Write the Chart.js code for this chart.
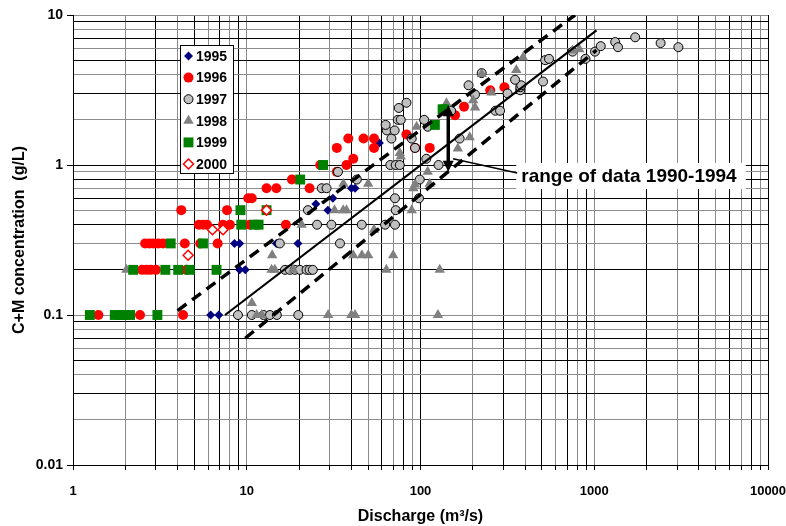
<!DOCTYPE html>
<html>
<head>
<meta charset="utf-8">
<script src="https://cdn.jsdelivr.net/npm/chart.js@4.4.0/dist/chart.umd.min.js"></script>
<style>
  body { margin: 0; background: #fff; }
  #wrap { position: relative; width: 786px; height: 526px; }
</style>
</head>
<body>
<div id="wrap"><canvas id="chart"></canvas></div>
<script>
// discharge (m3/s) and C+M concentration (g/L) per year
const q1995 = [6.2, 6.9, 8.5, 9.1, 9.1, 9.8, 14.8, 19.7, 25, 29.3, 31.3, 40, 42, 58];
const c1995 = [0.1, 0.1, 0.3, 0.3, 0.2, 0.2, 0.3, 0.3, 0.55, 0.5, 0.6, 0.7, 0.7, 1.4];

const q1996 = [1.4, 2.43, 4.3,
  2.5, 2.65, 2.8, 3.0, 4.5,
  2.6, 2.75, 2.9, 3.1, 3.3, 4.4, 5.4, 6.8,
  5.3, 5.6, 5.9, 7.3, 8.0, 10.4, 16.8,
  4.2, 7.7, 10.2, 10.7,
  13, 14.8, 23, 18.2,
  33, 26.5, 37.5, 41,
  33, 54, 93, 113,
  38.4, 47, 54, 83,
  158, 178, 252, 304];
const c1996 = [0.1, 0.1, 0.1,
  0.2, 0.2, 0.2, 0.2, 0.2,
  0.3, 0.3, 0.3, 0.3, 0.3, 0.3, 0.3, 0.3,
  0.4, 0.4, 0.4, 0.4, 0.4, 0.4, 0.4,
  0.5, 0.5, 0.6, 0.6,
  0.7, 0.7, 0.7, 0.8,
  0.9, 1.0, 1.0, 1.1,
  1.3, 1.3, 1.3, 1.3,
  1.5, 1.5, 1.5, 1.6,
  2.15, 2.45, 3.15, 3.3];

const q1997 = [8.9, 10.7, 12.5, 13.6, 14.9, 19.8,
  16.6, 17.7, 18.9, 20.2, 22.1, 23, 24,
  15.5, 34.4,
  25.4, 30.7, 45.9, 62.6, 71.3,
  22.5, 72,
  71.3, 98,
  27, 28.8,
  43, 99, 33.5,
  67, 72, 76, 127, 108, 93,
  68, 89, 168, 64, 71, 63, 110,
  74, 77, 105, 75, 83,
  150, 270, 287,
  206, 317, 375, 375, 189, 380,
  350, 507, 225,
  522, 549, 890, 750, 1010,
  1090, 1320, 1370, 1720, 2410, 3050];
const c1997 = [0.1, 0.1, 0.1, 0.1, 0.1, 0.1,
  0.2, 0.2, 0.2, 0.2, 0.2, 0.2, 0.2,
  0.3, 0.3,
  0.4, 0.4, 0.4, 0.4, 0.4,
  0.5, 0.5,
  0.6, 0.6,
  0.7, 0.7,
  0.8, 0.8, 0.9,
  1.0, 1.0, 1.0, 1.0, 1.1, 1.3,
  1.5, 1.5, 1.5, 1.7, 1.7, 1.85, 1.8,
  2.0, 2.0, 2.0, 2.4, 2.6,
  2.3, 2.3, 2.3,
  2.95, 3.0, 3.15, 3.3, 3.4, 3.4,
  3.7, 3.6, 4.1,
  5.0, 5.1, 5.1, 5.7, 5.7,
  6.2, 6.6, 6.1, 7.1, 6.5, 6.1];

const q1998 = [2.03, 10.7, 11.4, 12.2, 29.4, 40, 42, 126,
  13.9, 14.5, 18.5, 63.6, 129,
  14, 41, 46, 50, 69.6,
  20.7, 54,
  32, 35.9, 37.5, 89,
  36, 50, 91, 93, 113, 110,
  76, 77, 95, 164, 192, 141, 201, 206, 225, 256, 356, 389, 750, 820];
const c1998 = [0.2, 0.12, 0.1, 0.1, 0.1, 0.1, 0.1, 0.1,
  0.2, 0.2, 0.2, 0.2, 0.2,
  0.25, 0.25, 0.25, 0.25, 0.25,
  0.4, 0.37,
  0.5, 0.5, 0.5, 0.5,
  0.75, 0.75, 0.7, 0.74, 0.75, 0.9,
  1.2, 1.14, 1.8, 1.29, 1.53, 2.58, 2.7, 2.42, 4.05, 3.04, 4.3, 5.2, 5.8, 5.9];

const q1999 = [1.25, 1.74, 1.86, 1.99, 2.13, 3.06,
  2.22, 3.4, 4.03, 4.7, 6.7,
  3.65, 5.6,
  9.3, 11.1, 11.7,
  9.2, 13.0,
  20.3, 27.5, 121, 134, 137];
const c1999 = [0.1, 0.1, 0.1, 0.1, 0.1, 0.1,
  0.2, 0.2, 0.2, 0.2, 0.2,
  0.3, 0.3,
  0.4, 0.4, 0.4,
  0.5, 0.5,
  0.8, 1.0, 1.85, 2.35, 2.35];

const q2000 = [4.6, 6.35, 7.3, 13.0];
const c2000 = [0.25, 0.37, 0.37, 0.5];

// fitted line and envelope (end points)
const fitQ = [7.5, 1030];
const fitC = [0.1, 7.9];
const upperQ = [4, 775];
const upperC = [0.107, 10];
const lowerQ = [9.8, 1030];
const lowerC = [0.07, 5.83];

// range arrow and its label
const rangeQ = 144.5;
const rangeC = [0.9, 2.5];
const rangeLabel = 'range of data 1990-1994';
const rangeLabelAt = [380, 0.845];
const leaderFrom = [154, 1.1];

const xLabels = [1, 10, 100, 1000, 10000];
const yLabels = [0.01, 0.1, 1, 10];

const FONT = '"Liberation Sans", Arial, sans-serif';

function pairs(xs, ys) {
  return xs.map((x, i) => ({ x: x, y: ys[i] }));
}

// 1..9 x 10^k grid values for a log axis
function logGrid(lo, hi) {
  const vals = [];
  for (let k = lo; k < hi; k++) {
    for (let m = 1; m <= 9; m++) {
      vals.push(parseFloat((m * Math.pow(10, k)).toPrecision(6)));
    }
  }
  vals.push(Math.pow(10, hi));
  return vals;
}

function isDecade(v) {
  const l = Math.log10(v);
  return Math.abs(l - Math.round(l)) < 1e-9;
}

const gridColor = (ctx) => (ctx.index % 2 ? '#8c8c8c' : '#000000');

function drawMarker(ctx, style, x, y) {
  ctx.save();
  ctx.fillStyle = style.bg;
  ctx.strokeStyle = style.border;
  ctx.lineWidth = style.bw;
  const r = style.r;
  ctx.beginPath();
  if (style.shape === 'circle') {
    ctx.arc(x, y, r, 0, Math.PI * 2);
  } else if (style.shape === 'rectRot') {
    ctx.moveTo(x, y - r); ctx.lineTo(x + r, y); ctx.lineTo(x, y + r); ctx.lineTo(x - r, y);
    ctx.closePath();
  } else if (style.shape === 'rect') {
    const s = r * Math.SQRT1_2;
    ctx.rect(x - s, y - s, s * 2, s * 2);
  } else if (style.shape === 'triangle') {
    const h = r * 1.5;
    ctx.moveTo(x, y - r); ctx.lineTo(x + h / Math.sqrt(3), y + r / 2); ctx.lineTo(x - h / Math.sqrt(3), y + r / 2);
    ctx.closePath();
  }
  ctx.fill();
  if (style.bw > 0) ctx.stroke();
  ctx.restore();
}

const series = [
  { label: '1995', xs: q1995, ys: c1995, shape: 'rectRot', r: 4.5, bg: '#000080', border: '#000080', bw: 0 },
  { label: '1996', xs: q1996, ys: c1996, shape: 'circle', r: 5, bg: '#ff0000', border: '#ff0000', bw: 0 },
  { label: '1997', xs: q1997, ys: c1997, shape: 'circle', r: 4.5, bg: '#c0c0c0', border: '#000000', bw: 1 },
  { label: '1998', xs: q1998, ys: c1998, shape: 'triangle', r: 6, bg: '#808080', border: '#808080', bw: 0 },
  { label: '1999', xs: q1999, ys: c1999, shape: 'rect', r: 7, bg: '#008000', border: '#008000', bw: 0 },
  { label: '2000', xs: q2000, ys: c2000, shape: 'rectRot', r: 5, bg: '#ffffff', border: '#ff0000', bw: 1.5 }
];

const datasets = series.map((s, i) => ({
  label: s.label,
  data: pairs(s.xs, s.ys),
  pointStyle: s.shape,
  pointRadius: s.r,
  backgroundColor: s.bg,
  borderColor: s.border,
  borderWidth: s.bw,
  order: 10 - i
}));

function lineSet(xs, ys, width, dash) {
  return {
    data: pairs(xs, ys),
    showLine: true,
    pointRadius: 0,
    borderColor: '#000',
    borderWidth: width,
    borderDash: dash,
    borderCapStyle: 'butt',
    order: 0
  };
}
datasets.push(lineSet(fitQ, fitC, 2.2, []));
datasets.push(lineSet(upperQ, upperC, 3.5, [11, 7]));
datasets.push(lineSet(lowerQ, lowerC, 3.5, [11, 7]));

// white page behind everything
const bgPlugin = {
  id: 'bg',
  beforeDraw(chart) {
    const ctx = chart.ctx;
    ctx.save();
    ctx.fillStyle = '#fff';
    ctx.fillRect(0, 0, chart.width, chart.height);
    ctx.restore();
  }
};

// in-plot legend, range arrow and label
const overlayPlugin = {
  id: 'overlay',
  afterDatasetsDraw(chart) {
    const ctx = chart.ctx;
    const xs = chart.scales.x, ys = chart.scales.y;

    // legend box
    const bx = 180, by = 45, bw = 53, bh = 128;
    ctx.save();
    ctx.fillStyle = '#fff';
    ctx.fillRect(bx, by, bw, bh);
    ctx.strokeStyle = '#000';
    ctx.lineWidth = 1;
    ctx.strokeRect(bx + 0.5, by + 0.5, bw, bh);
    ctx.font = 'bold 14px ' + FONT;
    ctx.fillStyle = '#000';
    ctx.textBaseline = 'middle';
    series.forEach((s, i) => {
      const y = by + 11 + i * 21.6;
      drawMarker(ctx, s, bx + 8.5, y);
      ctx.fillStyle = '#000';
      ctx.fillText(s.label, bx + 16, y + 1);
    });
    ctx.restore();

    // double-headed arrow
    const ax = xs.getPixelForValue(rangeQ);
    const ay1 = ys.getPixelForValue(rangeC[1]);
    const ay2 = ys.getPixelForValue(rangeC[0]);
    ctx.save();
    ctx.strokeStyle = '#000';
    ctx.fillStyle = '#000';
    ctx.lineWidth = 3.5;
    ctx.beginPath();
    ctx.moveTo(ax, ay1 + 8);
    ctx.lineTo(ax, ay2 - 8);
    ctx.stroke();
    ctx.beginPath();
    ctx.moveTo(ax, ay1); ctx.lineTo(ax + 5.5, ay1 + 11); ctx.lineTo(ax - 5.5, ay1 + 11); ctx.closePath();
    ctx.fill();
    ctx.beginPath();
    ctx.moveTo(ax, ay2); ctx.lineTo(ax + 5.5, ay2 - 11); ctx.lineTo(ax - 5.5, ay2 - 11); ctx.closePath();
    ctx.fill();

    // label box and leader line
    const tx = xs.getPixelForValue(rangeLabelAt[0]);
    const ty = ys.getPixelForValue(rangeLabelAt[1]);
    ctx.font = 'bold 19px ' + FONT;
    const tw = ctx.measureText(rangeLabel).width;
    ctx.fillStyle = '#fff';
    ctx.fillRect(tx - 5, ty - 13, tw + 14, 26);
    ctx.fillStyle = '#000';
    ctx.textBaseline = 'middle';
    ctx.fillText(rangeLabel, tx, ty + 1);
    ctx.lineWidth = 1.5;
    ctx.beginPath();
    ctx.moveTo(xs.getPixelForValue(leaderFrom[0]), ys.getPixelForValue(leaderFrom[1]));
    ctx.lineTo(tx - 4, ty - 3);
    ctx.stroke();
    ctx.restore();
  }
};

new Chart(document.getElementById('chart'), {
  type: 'scatter',
  data: { datasets: datasets },
  options: {
    responsive: true,
    maintainAspectRatio: false,
    animation: false,
    events: [],
    layout: { padding: { left: 0, right: 18, top: 15, bottom: 0 } },
    plugins: {
      legend: { display: false },
      tooltip: { enabled: false }
    },
    scales: {
      x: {
        type: 'logarithmic',
        min: 1,
        max: 10000,
        afterBuildTicks: (scale) => { scale.ticks = logGrid(0, 4).map(v => ({ value: v })); },
        afterFit: (scale) => { scale.height = 61; scale.paddingRight = 0; scale.paddingLeft = 0; },
        ticks: {
          autoSkip: false,
          maxRotation: 0,
          padding: 14,
          color: '#000',
          font: { family: FONT, size: 13, weight: 'bold' },
          callback: (v) => (xLabels.some(l => Math.abs(l - v) < 1e-9) ? String(v) : '')
        },
        grid: { color: gridColor, lineWidth: 1, tickLength: 5, tickColor: '#000' },
        border: { color: '#000', width: 1 },
        title: {
          display: true,
          text: 'Discharge (m³/s)',
          color: '#000',
          font: { family: FONT, size: 16, weight: 'bold' },
          padding: { top: 0, bottom: 0 }
        }
      },
      y: {
        type: 'logarithmic',
        min: 0.01,
        max: 10,
        afterBuildTicks: (scale) => { scale.ticks = logGrid(-2, 1).map(v => ({ value: v })); },
        afterFit: (scale) => { scale.width = 73; scale.paddingTop = 0; scale.paddingBottom = 0; },
        ticks: {
          autoSkip: false,
          padding: 4,
          color: '#000',
          font: { family: FONT, size: 14, weight: 'bold' },
          callback: (v) => (yLabels.some(l => Math.abs(l - v) < 1e-12) ? String(v) : '')
        },
        grid: {
          color: gridColor,
          lineWidth: 1,
          tickLength: 6,
          tickColor: (ctx) => (isDecade(ctx.tick.value) ? '#000' : 'rgba(0,0,0,0)')
        },
        border: { color: '#000', width: 1 },
        title: {
          display: true,
          text: 'C+M concentration  (g/L)',
          color: '#000',
          font: { family: FONT, size: 16, weight: 'bold' },
          padding: { top: 10, bottom: 0 }
        }
      }
    }
  },
  plugins: [bgPlugin, overlayPlugin]
});
</script>
</body>
</html>
